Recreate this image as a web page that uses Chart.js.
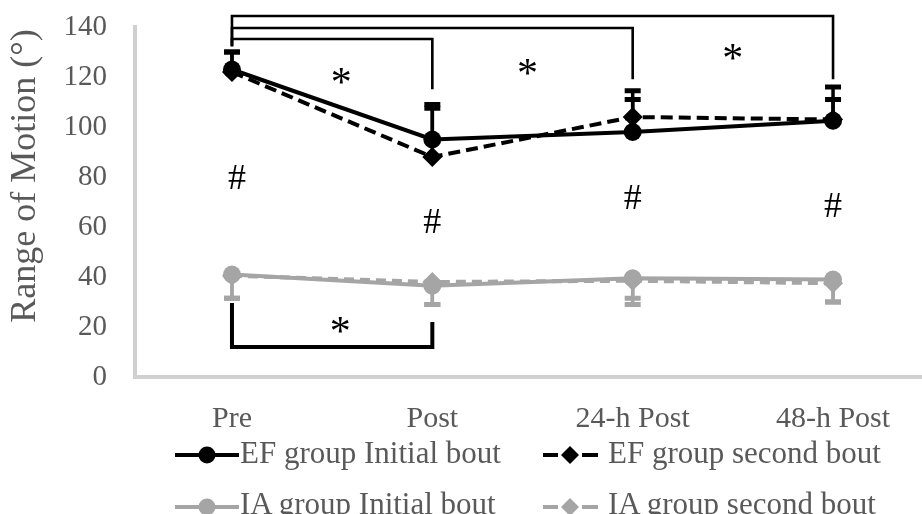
<!DOCTYPE html>
<html>
<head>
<meta charset="utf-8">
<script src="https://cdn.jsdelivr.net/npm/chart.js@4/dist/chart.umd.min.js"></script>
<style>
  html, body { margin: 0; padding: 0; background: #fff; }
  #wrap { position: relative; width: 922px; height: 514px; overflow: hidden; }
  canvas { position: absolute; left: 0; top: 0; }
  .lg-text { position: absolute; font-family: 'Liberation Serif', 'Times New Roman', serif; font-size: 31px; line-height: 31px; color: #595959; white-space: nowrap; }
  .lg-sym { position: absolute; }
</style>
</head>
<body>
<div id="wrap">
  <canvas id="c" width="922" height="514"></canvas>
  <svg class="lg-sym" style="left:173px;top:440px" width="68" height="30">
    <line x1="2" y1="15" x2="66" y2="15" stroke="#000" stroke-width="4"/>
    <circle cx="34" cy="15" r="8.5" fill="#000"/>
  </svg>
  <div class="lg-text" style="left:240px;top:437px">EF group Initial bout</div>
  <svg class="lg-sym" style="left:541px;top:440px" width="60" height="30">
    <line x1="2" y1="15" x2="17" y2="15" stroke="#000" stroke-width="4"/>
    <line x1="41" y1="15" x2="57" y2="15" stroke="#000" stroke-width="4"/>
    <polygon points="29,6 38,15 29,24 20,15" fill="#000"/>
  </svg>
  <div class="lg-text" style="left:608px;top:437px">EF group second bout</div>
  <svg class="lg-sym" style="left:173px;top:492px" width="68" height="30">
    <line x1="2" y1="15" x2="66" y2="15" stroke="#a5a5a5" stroke-width="4"/>
    <circle cx="34" cy="15" r="8.5" fill="#a5a5a5"/>
  </svg>
  <div class="lg-text" style="left:240px;top:488px">IA group Initial bout</div>
  <svg class="lg-sym" style="left:541px;top:492px" width="60" height="30">
    <line x1="2" y1="15" x2="17" y2="15" stroke="#a5a5a5" stroke-width="4"/>
    <line x1="41" y1="15" x2="57" y2="15" stroke="#a5a5a5" stroke-width="4"/>
    <polygon points="29,6 38,15 29,24 20,15" fill="#a5a5a5"/>
  </svg>
  <div class="lg-text" style="left:608px;top:488px">IA group second bout</div>
</div>
<script>
// ---- data ----
const categories = ['Pre', 'Post', '24-h Post', '48-h Post'];
const yTicks = [0, 20, 40, 60, 80, 100, 120, 140];
const efInitial = [123, 95, 98, 102.5];
const efSecond = [122, 88, 104, 103];
const iaInitial = [41, 36.5, 39.5, 39];
const iaSecond = [40.5, 38, 38.5, 37.5];
const efInitialSD = [7, 14, 13, 13.5];
const efSecondSD = [8, 19.5, 10.5, 8];
const iaInitialSD = [9.5, 7.5, 8, 9];
const iaSecondSD = [9, 9, 9.5, 7.5];
const seriesNames = ['EF group Initial bout', 'EF group second bout', 'IA group Initial bout', 'IA group second bout'];
const yTitle = 'Range of Motion (°)';

// significance annotations (category index, value)
const brackets = [
  { x1: 0, x2: 3, y: 144.4, end1: 132.8, end2: 119.6, w: 2.6 },
  { x1: 0, x2: 2, y: 139.6, end1: 132.8, end2: 119.6, w: 2.6 },
  { x1: 0, x2: 1, y: 135.2, end1: 132.8, end2: 115.6, w: 2.6 },
  { x1: 0, x2: 1, y: 12, end1: 28.8, end2: 21.2, w: 4 }
];
const stars = [[0.545, 120.4], [1.475, 124], [2.5, 130], [0.54, 20.8]];
const hashes = [[0.025, 80], [1.0, 62.4], [2.0, 72], [3.0, 68.8]];

const BLACK = '#000000';
const GRAY = '#a5a5a5';
const TXT = '#595959';
const FONT = "'Liberation Serif', 'Times New Roman', serif";

const toXY = arr => arr.map((v, i) => ({ x: i, y: v }));

const errorBarPlugin = {
  id: 'errorBars',
  beforeDatasetsDraw(chart) {
    const ctx = chart.ctx;
    const ys = chart.scales.y;
    chart.data.datasets.forEach((ds, i) => {
      const meta = chart.getDatasetMeta(i);
      ctx.save();
      ctx.strokeStyle = ds.borderColor;
      meta.data.forEach((pt, j) => {
        const v = ds.data[j].y + ds.errors[j] * ds.errorDir;
        const py = ys.getPixelForValue(v);
        ctx.lineWidth = 3.5;
        ctx.beginPath();
        ctx.moveTo(pt.x, pt.y);
        ctx.lineTo(pt.x, py);
        ctx.stroke();
        ctx.lineWidth = 5;
        ctx.beginPath();
        ctx.moveTo(pt.x - 8, py);
        ctx.lineTo(pt.x + 8, py);
        ctx.stroke();
      });
      ctx.restore();
    });
  }
};

const annotationPlugin = {
  id: 'sigAnnotations',
  afterDraw(chart) {
    const ctx = chart.ctx;
    const xs = chart.scales.x, ys = chart.scales.y;
    ctx.save();
    // y axis title
    ctx.fillStyle = TXT;
    ctx.font = '36px ' + FONT;
    ctx.textAlign = 'center';
    ctx.textBaseline = 'middle';
    ctx.translate(26, 176);
    ctx.rotate(-Math.PI / 2);
    ctx.fillText(yTitle, 0, 0);
    ctx.restore();

    ctx.save();
    ctx.strokeStyle = BLACK;
    ctx.lineCap = 'square';
    brackets.forEach(b => {
      const x1 = xs.getPixelForValue(b.x1), x2 = xs.getPixelForValue(b.x2);
      const y = ys.getPixelForValue(b.y);
      ctx.lineWidth = b.w;
      ctx.beginPath();
      ctx.moveTo(x1, ys.getPixelForValue(b.end1));
      ctx.lineTo(x1, y);
      ctx.lineTo(x2, y);
      ctx.lineTo(x2, ys.getPixelForValue(b.end2));
      ctx.stroke();
    });
    ctx.fillStyle = BLACK;
    ctx.textAlign = 'center';
    ctx.textBaseline = 'alphabetic';
    ctx.font = '42px ' + FONT;
    stars.forEach(s => {
      ctx.fillText('*', xs.getPixelForValue(s[0]), ys.getPixelForValue(s[1]) + 0.48 * 42);
    });
    ctx.font = '36px ' + FONT;
    hashes.forEach(h => {
      ctx.fillText('#', xs.getPixelForValue(h[0]), ys.getPixelForValue(h[1]) + 0.34 * 36);
    });
    ctx.restore();
  }
};

new Chart(document.getElementById('c'), {
  type: 'line',
  data: {
    datasets: [
      { label: seriesNames[0], data: toXY(efInitial), errors: efInitialSD, errorDir: 1,
        borderColor: BLACK, backgroundColor: BLACK, borderWidth: 4,
        pointStyle: 'circle', pointRadius: 9, pointBorderWidth: 0 },
      { label: seriesNames[1], data: toXY(efSecond), errors: efSecondSD, errorDir: 1,
        borderColor: BLACK, backgroundColor: BLACK, borderWidth: 4, borderDash: [12, 6],
        pointStyle: 'rectRot', pointRadius: 10, pointBorderWidth: 0 },
      { label: seriesNames[2], data: toXY(iaInitial), errors: iaInitialSD, errorDir: -1,
        borderColor: GRAY, backgroundColor: GRAY, borderWidth: 4,
        pointStyle: 'circle', pointRadius: 9, pointBorderWidth: 0 },
      { label: seriesNames[3], data: toXY(iaSecond), errors: iaSecondSD, errorDir: -1,
        borderColor: GRAY, backgroundColor: GRAY, borderWidth: 4, borderDash: [10, 6],
        pointStyle: 'rectRot', pointRadius: 10, pointBorderWidth: 0 }
    ]
  },
  options: {
    responsive: false,
    animation: false,
    devicePixelRatio: 1,
    layout: { autoPadding: false, padding: { top: 27, right: 0, bottom: 0, left: 0 } },
    plugins: { legend: { display: false }, tooltip: { enabled: false } },
    elements: { line: { tension: 0 } },
    scales: {
      x: {
        type: 'linear',
        min: -0.484,
        max: 3.444,
        grid: { display: false, drawTicks: false },
        border: { display: true, color: '#d0d0d0', width: 4 },
        afterBuildTicks: s => { s.ticks = categories.map((c, i) => ({ value: i })); },
        afterFit: s => { s.height = 137; s.paddingLeft = 0; s.paddingRight = 0; s.paddingTop = 0; s.paddingBottom = 0; },
        ticks: {
          autoSkip: false, maxRotation: 0, padding: 24,
          color: TXT, font: { family: FONT, size: 30 },
          callback: v => categories[v]
        }
      },
      y: {
        min: 0, max: 140,
        grid: { display: false, drawTicks: false },
        border: { display: true, color: '#d0d0d0', width: 4 },
        afterBuildTicks: s => { s.ticks = yTicks.map(v => ({ value: v })); },
        afterFit: s => { s.width = 135; s.paddingTop = 0; s.paddingBottom = 0; s.paddingLeft = 0; s.paddingRight = 0; },
        ticks: { padding: 28, color: TXT, font: { family: FONT, size: 29 } },
        title: { display: false }
      }
    }
  },
  plugins: [errorBarPlugin, annotationPlugin]
});
</script>
</body>
</html>
